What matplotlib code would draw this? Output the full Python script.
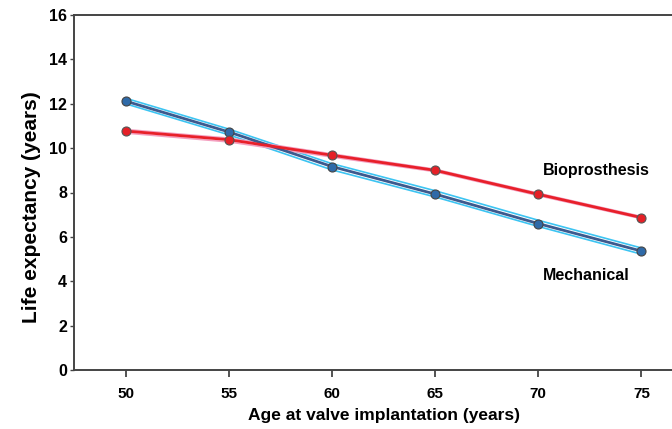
import matplotlib
matplotlib.use("Agg")
import matplotlib.pyplot as plt

ages = [50, 55, 60, 65, 70, 75]
mechanical = [12.12, 10.73, 9.17, 7.93, 6.60, 5.36]
mech_upper = [12.25, 10.86, 9.30, 8.08, 6.75, 5.50]
mech_lower = [12.00, 10.60, 9.02, 7.80, 6.47, 5.22]
bioprosthesis = [10.77, 10.38, 9.68, 9.00, 7.92, 6.87]
bio_upper = [10.84, 10.45, 9.74, 9.05, 7.97, 6.92]
bio_lower = [10.68, 10.28, 9.60, 8.94, 7.86, 6.82]
xticks = [50, 55, 60, 65, 70, 75]
yticks = [0, 2, 4, 6, 8, 10, 12, 14, 16]

fam = ['Liberation Sans', 'DejaVu Sans']
plt.rcParams['font.family'] = fam

fig = plt.figure(figsize=(6.72, 4.29), dpi=100)
ax = fig.add_axes([74/672, 59/429, 619/672, 355/429])

ax.plot(ages, mech_upper, color='#3cc4f2', lw=1.2, zorder=2)
ax.plot(ages, mech_lower, color='#3cc4f2', lw=1.2, zorder=2)
ax.plot(ages, bio_upper, color='#f4a0c0', lw=1.2, zorder=2)
ax.plot(ages, bio_lower, color='#f4a0c0', lw=1.2, zorder=2)
ax.plot(ages, mechanical, color='#3d5a8e', lw=2.0, zorder=3,
        marker='o', markersize=6.5, markerfacecolor='#2f6aa8', markeredgecolor='#444444', markeredgewidth=0.8)
ax.plot(ages, bioprosthesis, color='#e8202a', lw=2.0, zorder=4,
        marker='o', markersize=6.5, markerfacecolor='#e52027', markeredgecolor='#555555', markeredgewidth=0.8)

ax.text(70.2, 9.0, 'Bioprosthesis', fontsize=11.5, fontweight='bold', va='center', ha='left', family=fam)
ax.text(70.2, 4.25, 'Mechanical', fontsize=11.5, fontweight='bold', va='center', ha='left', family=fam)

ax.set_xlim(47.5, 77.5)
ax.set_ylim(0, 16)
ax.set_xticks(xticks)
ax.set_yticks(yticks)
ax.set_xticklabels([str(v) for v in xticks], fontsize=11, fontweight='bold')
ax.set_yticklabels([str(v) for v in yticks], fontsize=11.5, fontweight='bold')
ax.tick_params(axis='x', direction='out', length=5, width=1.3, color='#444444', pad=7)
ax.tick_params(axis='y', direction='out', length=3, width=1.0, color='#444444', pad=2)

for s in ['left', 'bottom', 'top', 'right']:
    ax.spines[s].set_linewidth(1.4)
    ax.spines[s].set_color('#444444')

ax.set_xlabel('Age at valve implantation (years)', fontsize=12.5, fontweight='bold', labelpad=5)
ax.set_ylabel('Life expectancy (years)', fontsize=15, fontweight='bold')
ax.yaxis.set_label_coords(-0.068, 0.46)
ax.yaxis.label.set_va('center')

fig.savefig('out.png', dpi=100)
